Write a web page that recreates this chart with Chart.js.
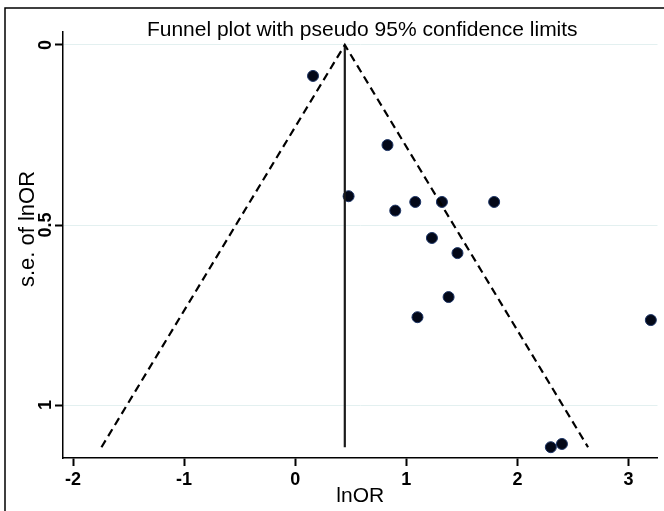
<!DOCTYPE html>
<html>
<head>
<meta charset="utf-8">
<script src="https://cdn.jsdelivr.net/npm/chart.js@4/dist/chart.umd.min.js"></script>
<style>
html,body{margin:0;padding:0;background:#fff;}
#wrap{width:664px;height:511px;position:relative;}
</style>
</head>
<body>
<div id="wrap"><canvas id="c" width="664" height="511"></canvas></div>
<script>
// Study estimates
const lnOR = [0.16, 0.83, 0.48, 0.90, 1.08, 1.32, 1.79, 1.23, 1.46, 1.38, 1.10, 3.20, 2.30, 2.40];
const seLnOR = [0.086, 0.278, 0.42, 0.46, 0.436, 0.436, 0.436, 0.536, 0.578, 0.70, 0.756, 0.764, 1.117, 1.108];
// Pooled estimate line (x, y endpoints)
const pooledX = [0.446, 0.446];
const pooledY = [0, 1.117];
// Pseudo 95% confidence limits (bottom-left, apex, bottom-right)
const limitX = [-1.744, 0.446, 2.635];
const limitY = [1.117, 0, 1.117];
// Tick labels
const xTicks = [-2, -1, 0, 1, 2, 3];
const yTicks = [0, 0.5, 1];
const chartTitle = 'Funnel plot with pseudo 95% confidence limits';
const xTitle = 'lnOR';
const yTitle = 's.e. of lnOR';

const zip = (xs, ys) => xs.map((x, i) => ({x: x, y: ys[i]}));
const FONT = '"Liberation Sans", Arial, sans-serif';

const decor = {
  id: 'decor',
  beforeDraw(chart) {
    const ctx = chart.ctx;
    ctx.save();
    ctx.fillStyle = '#fff';
    ctx.fillRect(0, 0, chart.width, chart.height);
    ctx.strokeStyle = '#000';
    ctx.lineWidth = 1.5;
    ctx.beginPath();
    ctx.moveTo(5, 511);
    ctx.lineTo(5, 8);
    ctx.lineTo(664, 8);
    ctx.stroke();
    ctx.restore();
  },
  afterDraw(chart) {
    const ctx = chart.ctx;
    const ys = chart.scales.y;
    const ca = chart.chartArea;
    ctx.save();
    ctx.fillStyle = '#000';
    // title
    ctx.font = '21px ' + FONT;
    ctx.textAlign = 'center';
    ctx.textBaseline = 'middle';
    ctx.fillText(chartTitle, (ca.left + ca.right) / 2 + 2, 30);
    // rotated y tick labels
    ctx.font = 'bold 18px ' + FONT;
    yTicks.forEach(v => {
      const py = ys.getPixelForValue(v);
      ctx.save();
      ctx.translate(46, py);
      ctx.rotate(-Math.PI / 2);
      ctx.fillText(String(v), 0, 0);
      ctx.restore();
    });
    // y title
    ctx.font = '22px ' + FONT;
    ctx.save();
    ctx.translate(28, 229);
    ctx.rotate(-Math.PI / 2);
    ctx.fillText(yTitle, 0, 0);
    ctx.restore();
    ctx.restore();
  }
};

new Chart(document.getElementById('c'), {
  type: 'scatter',
  data: {
    datasets: [
      {
        data: zip(limitX, limitY),
        showLine: true,
        borderColor: '#000',
        borderWidth: 2.2,
        borderDash: [8, 5],
        pointRadius: 0,
        fill: false
      },
      {
        data: zip(pooledX, pooledY),
        showLine: true,
        borderColor: '#1a1a1a',
        borderWidth: 2.2,
        pointRadius: 0,
        fill: false
      },
      {
        data: zip(lnOR, seLnOR),
        pointRadius: 5.5,
        pointBackgroundColor: '#030818',
        pointBorderColor: '#1d3566',
        pointBorderWidth: 1
      }
    ]
  },
  plugins: [decor],
  options: {
    responsive: false,
    animation: false,
    events: [],
    layout: {padding: {left: 0, right: 0, top: 32, bottom: 0}},
    plugins: {legend: {display: false}, tooltip: {enabled: false}, title: {display: false}},
    scales: {
      x: {
        type: 'linear',
        min: -2.09,
        max: 3.26,
        afterBuildTicks(s) { s.ticks = xTicks.map(v => ({value: v})); },
        afterFit(s) { s.height = 53; },
        grid: {drawOnChartArea: false, drawTicks: true, tickLength: 8, tickWidth: 2, tickColor: '#000'},
        border: {color: '#000', width: 1.5},
        ticks: {
          color: '#000',
          padding: 3,
          font: {family: FONT, size: 18, weight: 'bold'},
          maxRotation: 0,
          callback: v => String(v)
        },
        title: {
          display: true,
          text: xTitle,
          color: '#000',
          font: {family: FONT, size: 21},
          padding: {top: 0, bottom: 2}
        }
      },
      y: {
        type: 'linear',
        reverse: true,
        min: -0.036,
        max: 1.147,
        afterBuildTicks(s) { s.ticks = yTicks.map(v => ({value: v})); },
        afterFit(s) { s.width = 63; },
        grid: {color: '#e3f0f0', lineWidth: 1, drawTicks: true, tickLength: 8, tickWidth: 2, tickColor: '#000'},
        border: {color: '#000', width: 1.5},
        ticks: {display: false}
      }
    }
  }
});
</script>
</body>
</html>
